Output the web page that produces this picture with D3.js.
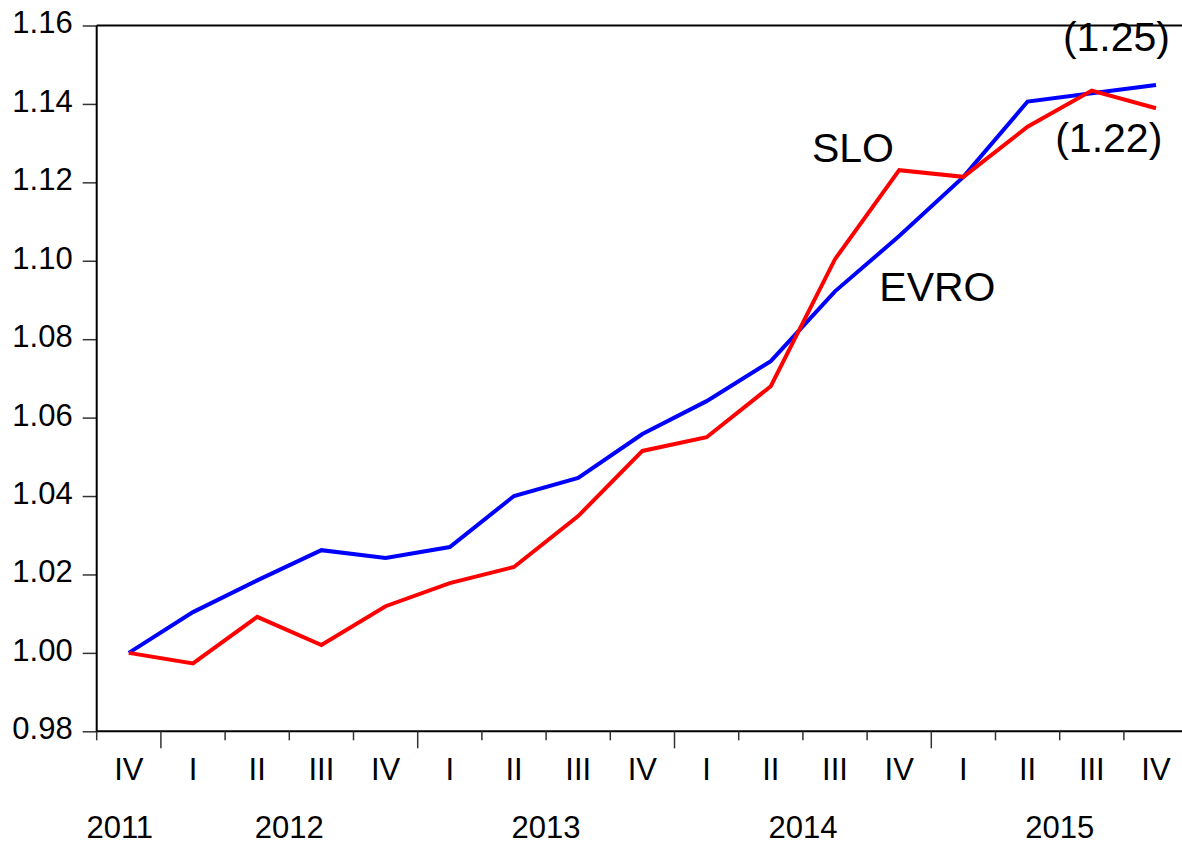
<!DOCTYPE html>
<html><head><meta charset="utf-8">
<script src="https://cdn.jsdelivr.net/npm/d3@7"></script>
<style>body{margin:0;background:#fff}svg{display:block}text{font-family:"Liberation Sans",Arial,sans-serif;fill:#000}</style>
</head><body>
<script>
const quarters = ["IV","I","II","III","IV","I","II","III","IV","I","II","III","IV","I","II","III","IV"];
const years    = [2011,2012,2012,2012,2012,2013,2013,2013,2013,2014,2014,2014,2014,2015,2015,2015,2015];
const evro = [1.000,1.0104,1.0185,1.0262,1.0242,1.0270,1.0400,1.0446,1.0558,1.0642,1.0744,1.0922,1.1063,1.1214,1.1406,1.1427,1.1448];
const slo  = [1.000,0.9973,1.0092,1.0020,1.0119,1.0178,1.0219,1.0349,1.0515,1.0550,1.0680,1.1004,1.1231,1.1214,1.1342,1.1434,1.1389];
const yTicks = [0.98,1.00,1.02,1.04,1.06,1.08,1.10,1.12,1.14,1.16];
const labels = [
  {text:"SLO", q:11.14, v:1.1252},
  {text:"EVRO", q:12.19, v:1.0897},
  {text:"(1.25)", q:15.05, v:1.1536},
  {text:"(1.22)", q:14.93, v:1.1278}
];

(function(){
const W=1182,H=845;
const svg=d3.select("body").append("svg").attr("width",W).attr("height",H);
const pL=96.7, pR=1188.1, pT=25.5, pB=731.3;
const x=d3.scaleBand().domain(d3.range(quarters.length)).range([pL,pR]).padding(0);
const bw=x.bandwidth();
const xc=i=>x(i)+bw/2;
const y=d3.scaleLinear().domain([0.98,1.16]).range([pB,pT]);

// y axis
const ya=svg.append("g").attr("transform",`translate(${pL},0)`)
  .call(d3.axisLeft(y).tickValues(yTicks).tickFormat(d3.format(".2f")).tickSize(14).tickPadding(10));
ya.select(".domain").remove();
ya.selectAll(".tick line").attr("stroke","#333").attr("stroke-width",1.5);
ya.selectAll(".tick text").attr("font-size",31).attr("dy","0.24em").attr("font-family","Liberation Sans, Arial, sans-serif").attr("fill","#000");

// frame lines
svg.append("line").attr("x1",pL).attr("x2",W).attr("y1",pT).attr("y2",pT).attr("stroke","#000").attr("stroke-width",2);
svg.append("line").attr("x1",pL).attr("x2",pL).attr("y1",pT).attr("y2",pB+1).attr("stroke","#000").attr("stroke-width",2);
svg.append("line").attr("x1",pL).attr("x2",W).attr("y1",pB).attr("y2",pB).attr("stroke","#000").attr("stroke-width",2);

// x ticks at band boundaries
const bounds=d3.range(quarters.length);
svg.append("g").selectAll("line").data(bounds).join("line")
  .attr("x1",i=>x(i)).attr("x2",i=>x(i))
  .attr("y1",pB).attr("y2",i=>(quarters[i]==="I")?pB+17:pB+9)
  .attr("stroke","#333").attr("stroke-width",1.5);

// quarter labels
svg.append("g").selectAll("text").data(quarters).join("text")
  .attr("x",(d,i)=>xc(i)).attr("y",780).attr("text-anchor","middle").attr("font-size",31).text(d=>d);

// year labels
const yrs=Array.from(d3.group(d3.range(years.length),i=>years[i]),([k,v])=>({year:k,first:v[0],last:v[v.length-1]}));
svg.append("g").selectAll("text").data(yrs).join("text")
  .attr("x",d=>{const m=(x(d.first)+x(d.last)+bw)/2; return d.first===d.last? m-9 : m;})
  .attr("y",838).attr("text-anchor","middle").attr("font-size",31).text(d=>d.year);

// lines
const line=d3.line().x((d,i)=>xc(i)).y(d=>y(d));
svg.append("path").datum(evro).attr("d",line).attr("fill","none").attr("stroke","#0000ff").attr("stroke-width",4).attr("stroke-linejoin","miter");
svg.append("path").datum(slo).attr("d",line).attr("fill","none").attr("stroke","#ff0000").attr("stroke-width",4).attr("stroke-linejoin","miter");

// annotations
svg.append("g").selectAll("text").data(labels).join("text")
  .attr("x",d=>x(0)+d.q*bw).attr("y",d=>y(d.v)).attr("font-size",41).text(d=>d.text);
})();
</script>
</body></html>
